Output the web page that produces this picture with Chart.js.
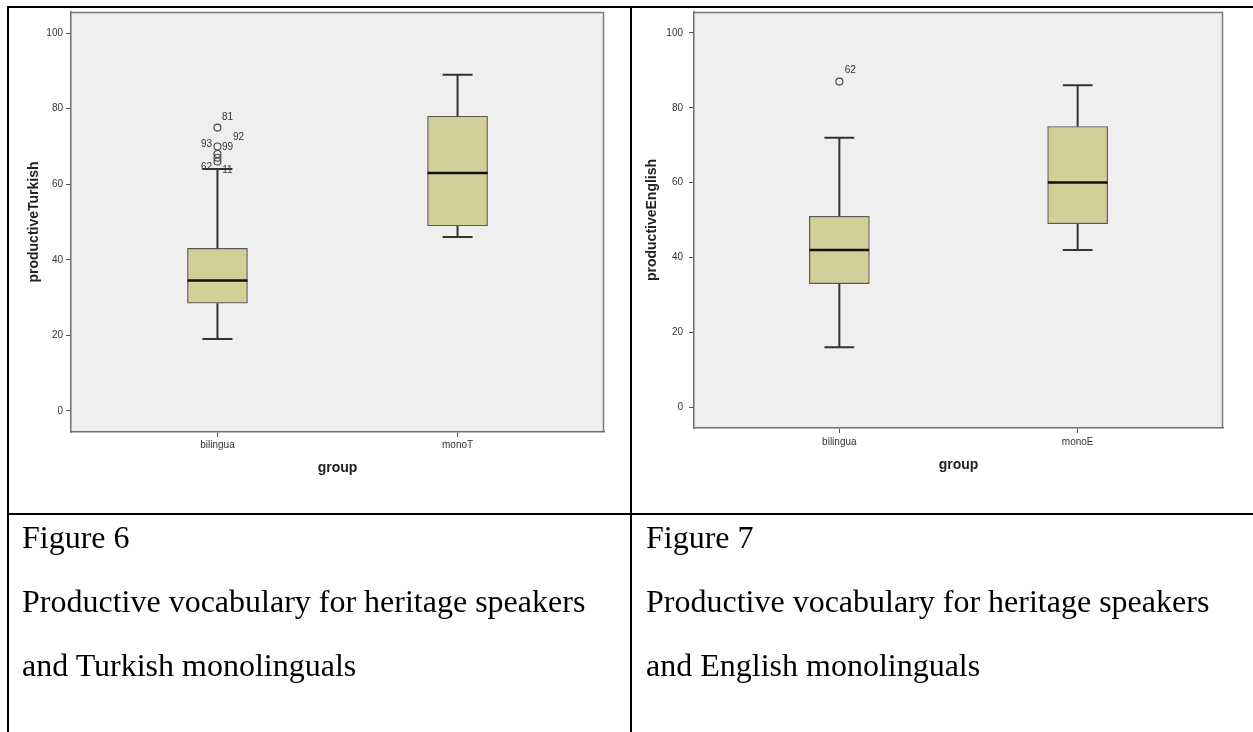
<!DOCTYPE html>
<html><head><meta charset="utf-8">
<script src="https://cdn.jsdelivr.net/npm/chart.js@4.4.1/dist/chart.umd.min.js"></script>
<style>
html,body{margin:0;padding:0;background:#fff;width:1253px;height:732px;overflow:hidden;}
body{position:relative;}
canvas{position:absolute;}
.ln{position:absolute;background:#000;z-index:5;}
.cap{position:absolute;font-family:"Liberation Serif","Times New Roman",serif;font-size:32px;line-height:64px;color:#000;white-space:nowrap;}
</style></head><body>
<canvas id="c1" width="630" height="513" style="left:0;top:0"></canvas>
<canvas id="c2" width="620" height="513" style="left:633px;top:0"></canvas>
<div class="ln" style="left:7px;top:6px;width:1246px;height:2px"></div>
<div class="ln" style="left:7px;top:6px;width:2px;height:726px"></div>
<div class="ln" style="left:630px;top:6px;width:2px;height:726px"></div>
<div class="ln" style="left:7px;top:513px;width:1246px;height:2px"></div>
<div class="cap" style="left:22px;top:505px">Figure 6<br>Productive vocabulary for heritage speakers<br>and Turkish monolinguals</div>
<div class="cap" style="left:646px;top:505px">Figure 7<br>Productive vocabulary for heritage speakers<br>and English monolinguals</div>
<script>
// ---------- data ----------
const yTickValues = [0, 20, 40, 60, 80, 100];

const categoriesT = ['bilingua', 'monoT'];
const minT    = [19, 46];
const q1T     = [28.5, 49];
const medianT = [34.5, 63];
const q3T     = [43, 78];
const maxT    = [64, 89];
const outlierGroupT  = [0, 0, 0, 0, 0];
const outlierValueT  = [75, 70, 68, 67, 66];
const labelGroupT = [0, 0, 0, 0, 0, 0];
const labelValueT = [75, 70, 70, 68, 66, 66];
const labelTextT  = ['81', '93', '99', '92', '62', '11'];

const categoriesE = ['bilingua', 'monoE'];
const minE    = [16, 42];
const q1E     = [33, 49];
const medianE = [42, 60];
const q3E     = [51, 75];
const maxE    = [72, 86];
const outlierGroupE = [0];
const outlierValueE = [87];
const labelGroupE = [0];
const labelValueE = [87];
const labelTextE  = ['62'];

// ---------- styles ----------
const SANS = '"Liberation Sans", Arial, sans-serif';
const labelOffsetsT = [[10,-10],[-11,-2],[10,1],[21,-17],[-11,6],[10,9]];
const labelOffsetsE = [[11,-11]];

const plotFrame = {
  id: 'plotFrame',
  beforeDraw(chart) {
    const a = chart.chartArea, ctx = chart.ctx;
    ctx.save();
    ctx.fillStyle = '#efefef';
    ctx.fillRect(a.left, a.top, a.width, a.height);
    ctx.strokeStyle = '#7a7a7a';
    ctx.lineWidth = 1.5;
    ctx.beginPath();
    ctx.moveTo(a.left, a.top + 0.5);
    ctx.lineTo(a.right - 0.5, a.top + 0.5);
    ctx.lineTo(a.right - 0.5, a.bottom);
    ctx.stroke();
    ctx.restore();
  }
};

const outlierLabels = {
  id: 'outlierLabels',
  afterDatasetsDraw(chart, args, opts) {
    if (!opts.texts) return;
    const xs = chart.scales.x, ys = chart.scales.y, ctx = chart.ctx;
    ctx.save();
    ctx.font = '10px ' + SANS;
    ctx.fillStyle = '#333';
    ctx.textAlign = 'center';
    ctx.textBaseline = 'middle';
    opts.texts.forEach((t, i) => {
      const o = opts.offsets[i];
      ctx.fillText(t, xs.getPixelForValue(opts.groups[i] + 1) + o[0], ys.getPixelForValue(opts.values[i]) + o[1]);
    });
    ctx.restore();
  }
};

function whiskers(mins, q1s, q3s, maxs, capHalf) {
  const pts = [];
  mins.forEach((mn, i) => {
    const x = i + 1;
    pts.push({x: x, y: q3s[i]}, {x: x, y: maxs[i]}, {x: x, y: null},
             {x: x - capHalf, y: maxs[i]}, {x: x + capHalf, y: maxs[i]}, {x: x, y: null},
             {x: x, y: q1s[i]}, {x: x, y: mn}, {x: x, y: null},
             {x: x - capHalf, y: mn}, {x: x + capHalf, y: mn}, {x: x, y: null});
  });
  return pts;
}
function medians(meds, half) {
  const pts = [];
  meds.forEach((m, i) => {
    pts.push({x: i + 1 - half, y: m}, {x: i + 1 + half, y: m}, {x: i + 1, y: null});
  });
  return pts;
}

function makeChart(id, L) {
  const boxData = L.q1.map((q, i) => ({x: i + 1, y: [q, L.q3[i]]}));
  const outData = L.outVals.map((v, i) => ({x: L.outGroups[i] + 1, y: v}));
  new Chart(document.getElementById(id), {
    type: 'bar',
    data: {
      datasets: [
        {type: 'bar', data: boxData, backgroundColor: '#d3cf98', borderColor: '#5a5a5a',
         borderWidth: 1.2, borderSkipped: false, barThickness: 60, order: 4},
        {type: 'line', data: whiskers(L.min, L.q1, L.q3, L.max, 0.0625), borderColor: '#333',
         borderWidth: 2, pointRadius: 0, spanGaps: false, fill: false, order: 3},
        {type: 'line', data: medians(L.median, 0.125), borderColor: '#111',
         borderWidth: 2.5, pointRadius: 0, spanGaps: false, fill: false, order: 2},
        {type: 'scatter', data: outData, pointStyle: 'circle', pointRadius: 3.5,
         borderColor: '#444', borderWidth: 1.1, backgroundColor: 'rgba(0,0,0,0)', order: 1}
      ]
    },
    options: {
      responsive: false, animation: false, devicePixelRatio: 1,
      layout: {padding: {top: 12, right: L.padRight, left: 0, bottom: 0}},
      plugins: {
        legend: {display: false}, tooltip: {enabled: false},
        outlierLabels: {texts: L.labTexts, values: L.labValues, groups: L.labGroups, offsets: L.labOffsets}
      },
      scales: {
        x: {
          type: 'linear', min: 0.39, max: 2.61, offset: false,
          afterBuildTicks: s => { s.ticks = L.categories.map((c, i) => ({value: i + 1})); },
          afterFit: s => { s.height = L.xAxisH; },
          grid: {drawOnChartArea: false, offset: false, tickLength: 5, color: '#555', tickWidth: 1},
          border: {display: true, color: '#6e6e6e', width: 1.5},
          ticks: {autoSkip: false, maxRotation: 0, padding: L.xTickPad, color: '#333',
                  font: {family: SANS, size: 10},
                  callback: v => L.categories[v - 1] || ''},
          title: {display: true, text: 'group', color: '#222',
                  font: {family: SANS, size: 14, weight: 'bold'},
                  padding: {top: 0, bottom: L.xTitlePad}}
        },
        y: {
          type: 'linear', min: -5.6, max: 105.6,
          afterBuildTicks: s => { s.ticks = yTickValues.map(v => ({value: v})); },
          afterFit: s => { s.width = L.yAxisW; },
          grid: {drawOnChartArea: false, tickLength: 5, color: '#555', tickWidth: 1},
          border: {display: true, color: '#6e6e6e', width: 1.5},
          ticks: {padding: L.yTickPad, color: '#333', font: {family: SANS, size: 10}},
          title: {display: true, text: L.yTitle, color: '#222',
                  font: {family: SANS, size: 14, weight: 'bold'},
                  padding: {top: L.yTitlePad, bottom: 0}}
        }
      }
    },
    plugins: [plotFrame, outlierLabels]
  });
}

makeChart('c1', {
  categories: categoriesT, min: minT, q1: q1T, median: medianT, q3: q3T, max: maxT,
  outVals: outlierValueT, outGroups: outlierGroupT,
  labTexts: labelTextT, labValues: labelValueT, labGroups: labelGroupT, labOffsets: labelOffsetsT,
  yTitle: 'productiveTurkish',
  padRight: 26, yAxisW: 71, xAxisH: 81, xTickPad: 2, xTitlePad: 36.6, yTickPad: 3, yTitlePad: 25.6
});
makeChart('c2', {
  categories: categoriesE, min: minE, q1: q1E, median: medianE, q3: q3E, max: maxE,
  outVals: outlierValueE, outGroups: outlierGroupE,
  labTexts: labelTextE, labValues: labelValueE, labGroups: labelGroupE, labOffsets: labelOffsetsE,
  yTitle: 'productiveEnglish',
  padRight: 30, yAxisW: 61, xAxisH: 85, xTickPad: 3, xTitlePad: 39.6, yTickPad: 6, yTitlePad: 10.6
});
</script>
</body></html>
